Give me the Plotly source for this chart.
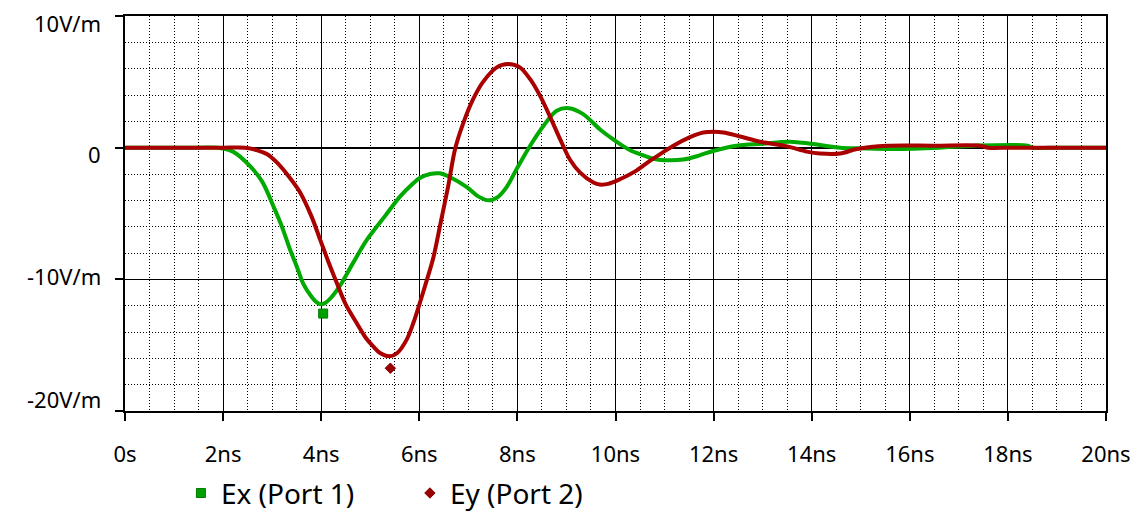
import plotly.graph_objects as go

# Time axis (ns) and field values (V/m)
ex_t = [0, 0.5, 1.0, 1.5, 1.9, 2.2, 2.55, 2.8, 3.02, 3.2, 3.36, 3.5, 3.63, 3.8, 3.91, 4.0, 4.08, 4.2, 4.38,
        4.65, 4.93, 5.3, 5.61, 5.85, 6.01, 6.22, 6.42, 6.63, 6.97, 7.2, 7.41, 7.6, 7.78, 7.98, 8.26, 8.53,
        8.8, 9.05, 9.34, 9.68, 9.89, 10.1, 10.3, 10.5, 10.77, 11.0, 11.38, 11.7, 11.99, 12.47, 13.0,
        13.56, 14.17, 14.58, 15.0, 15.66, 16.6, 17.3, 18.4, 18.5, 19.0, 19.5, 20]
ex_v = [0, 0, 0, 0, 0, -0.3, -1.4, -2.6, -4.4, -6.0, -7.7, -9.0, -10.3, -11.3, -11.75, -11.9, -11.8, -11.4,
        -10.5, -8.75, -7.0, -5.2, -3.7, -2.8, -2.3, -2.0, -1.95, -2.25, -3.0, -3.7, -4.0, -3.75, -3.0,
        -1.65, 0.15, 1.65, 2.8, 3.0, 2.55, 1.4, 0.8, 0.25, -0.2, -0.5, -0.85, -0.95, -0.9, -0.6, -0.25,
        0.15, 0.3, 0.45, 0.2, 0.0, -0.05, -0.1, 0.0, 0.15, 0.15, 0, 0, 0, 0]

ey_t = [0, 0.5, 1.0, 1.5, 2.0, 2.45, 2.7, 2.9, 3.09, 3.3, 3.57, 3.8, 3.98, 4.15, 4.32, 4.5, 4.72, 4.9,
        5.06, 5.2, 5.40, 5.55, 5.74, 5.88, 6.01, 6.15, 6.29, 6.43, 6.59, 6.73, 6.90, 7.10, 7.30, 7.58,
        7.81, 8.05, 8.26, 8.46, 8.66, 8.87, 9.07, 9.28, 9.55, 9.68, 9.85, 10.09, 10.4, 10.7, 10.95, 11.18,
        11.52, 11.79, 12.0, 12.2, 12.54, 12.95, 13.5, 13.9, 14.17, 14.58, 14.92, 15.54, 16.5, 17.43, 17.6,
        18.0, 18.5, 19.0, 19.5, 20]
ey_v = [0, 0, 0, 0, 0, 0, -0.2, -0.5, -1.1, -2.0, -3.4, -5.2, -7.0, -8.7, -10.3, -11.9, -13.3, -14.4,
        -15.1, -15.6, -15.85, -15.6, -14.6, -13.3, -11.8, -10.1, -8.3, -5.8, -2.9, -0.1, 1.9, 3.7, 5.0,
        6.1, 6.35, 6.1, 5.2, 3.95, 2.4, 0.65, -0.9, -1.9, -2.65, -2.8, -2.75, -2.4, -1.8, -1.0, -0.4, 0.15,
        0.8, 1.15, 1.2, 1.15, 0.85, 0.45, 0.1, -0.3, -0.45, -0.45, -0.1, 0.15, 0.15, 0.15, 0, 0, 0, 0, 0, 0]

# Single symbol markers placed on each trace
ex_marker_t = [4.04]
ex_marker_v = [-12.6]
ey_marker_t = [5.41]
ey_marker_v = [-16.75]

series_names = ["Ex (Port 1)", "Ey (Port 2)"]

x_tickvals = [0, 2, 4, 6, 8, 10, 12, 14, 16, 18, 20]
x_ticktext = ["0s", "2ns", "4ns", "6ns", "8ns", "10ns", "12ns", "14ns", "16ns", "18ns", "20ns"]
y_tickvals = [10, 0, -10, -20]
y_ticktext = ["10V/m", "0", "-10V/m", "-20V/m"]

# styling: vertical pixel nudge of each y tick label (as in the original layout)
Y_LABEL_NUDGE = [-7, -6, 3, 12]

GREEN = "#00AA00"
RED = "#AA0000"
FONT = "Noto Sans"

fig = go.Figure()
fig.add_trace(go.Scatter(x=ex_t, y=ex_v, mode="lines",
                         line=dict(color=GREEN, width=4, shape="spline", smoothing=0.9),
                         showlegend=False, hoverinfo="skip"))
fig.add_trace(go.Scatter(x=ey_t, y=ey_v, mode="lines",
                         line=dict(color=RED, width=4, shape="spline", smoothing=0.9),
                         showlegend=False, hoverinfo="skip"))
fig.add_trace(go.Scatter(x=ex_marker_t, y=ex_marker_v, mode="markers", name=series_names[0],
                         marker=dict(symbol="square", size=9, color="#00A000",
                                     line=dict(color="#007A00", width=1))))
fig.add_trace(go.Scatter(x=ey_marker_t, y=ey_marker_v, mode="markers", name=series_names[1],
                         marker=dict(symbol="diamond", size=8, color="#990000",
                                     line=dict(color="#880000", width=1))))

# y tick labels as text placed at the axis tick values
for val, txt, nudge in zip(y_tickvals, y_ticktext, Y_LABEL_NUDGE):
    fig.add_annotation(x=0, xref="paper", y=val, yref="y", text=txt, showarrow=False,
                       xanchor="right", yanchor="middle", xshift=-22, yshift=nudge,
                       font=dict(family=FONT, size=22, color="black"))

# page body has an 8px margin, so the figure is sized to end at the window edge
fig.update_layout(
    width=1133, height=506,
    margin=dict(l=117, r=35, t=8, b=103, autoexpand=False),
    paper_bgcolor="white", plot_bgcolor="white",
    font=dict(family=FONT, size=22, color="black"),
    legend=dict(orientation="h", x=0.057, y=-0.145, xanchor="left", yanchor="top",
                font=dict(family=FONT, size=28, color="black"),
                entrywidth=184, entrywidthmode="pixels", bgcolor="rgba(0,0,0,0)"),
)
fig.update_xaxes(
    range=[0, 20], tickvals=x_tickvals, ticktext=x_ticktext, automargin=False,
    showline=True, linecolor="black", linewidth=1.5, mirror=True,
    ticks="outside", ticklen=8, tickcolor="black", tickwidth=1.5,
    ticklabelstandoff=15, ticklabeloverflow="allow",
    showgrid=True, gridcolor="black", gridwidth=1.2, zeroline=False,
    minor=dict(dtick=0.5, showgrid=True, gridcolor="black", gridwidth=1, griddash="1px,2px", ticks=""),
)
fig.update_yaxes(
    range=[-20, 10], tickvals=y_tickvals, showticklabels=False, automargin=False,
    showline=True, linecolor="black", linewidth=1.5, mirror=True,
    ticks="outside", ticklen=8, tickcolor="black", tickwidth=1.5,
    showgrid=True, gridcolor="black", gridwidth=1.2,
    zeroline=True, zerolinecolor="black", zerolinewidth=1.5,
    minor=dict(dtick=2, showgrid=True, gridcolor="black", gridwidth=1, griddash="1px,2px", ticks=""),
)

fig.write_html("out.html")
